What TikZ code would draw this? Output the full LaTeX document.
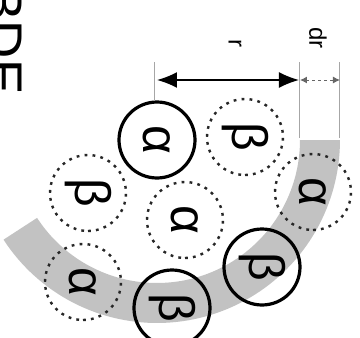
\documentclass[tikz,border=0pt]{standalone}
\usepackage{fontspec}
\setmainfont{Liberation Sans}
\usetikzlibrary{arrows.meta}
\begin{document}
\begin{tikzpicture}[x=0.5pt,y=-0.5pt,
 part/.style={circle,minimum size=38pt,inner sep=0pt,font=\fontsize{25}{25}\selectfont,rotate=-90},
 solidp/.style={part,draw=black,line width=1.6pt},
 dashp/.style={part,draw=black!85,line width=1.2pt,dash pattern=on 1.4pt off 2.6pt},
 ext/.style={draw=black!35,line width=0.5pt},
 lbl/.style={font=\fontsize{12}{12}\selectfont,rotate=-90,inner sep=0pt}]
\useasboundingbox (0,0) rectangle (360,338);
\clip (0,0) rectangle (360,338);
% shell band
\fill[black!24] plot[domain=0:147,samples=80] ({157+183*cos(\x)},{140+183*sin(\x)})
  -- plot[domain=147:0,samples=80] ({157+143*cos(\x)},{140+143*sin(\x)}) -- cycle;
% title
\node[rotate=-90,anchor=base east,inner sep=0pt,font=\fontsize{26.5}{26.5}\selectfont] (title) at (-14,95) {BDE};
% particles
\node[solidp] (a1) at (157,140) {α};
\node[dashp] (b1) at (245,137) {β};
\node[dashp] (b2) at (88,193) {β};
\node[dashp] (a2) at (185,220) {α};
\node[dashp] (a3) at (313,192) {α};
\node[solidp] (b3) at (262,267) {β};
\node[solidp] (b4) at (172,308) {β};
\node[dashp] (a4) at (83,282) {α};
% extension lines
\coordinate (e0t) at (155,62); \coordinate (e0b) at (155,100);
\coordinate (e1t) at (300,62); \coordinate (e1b) at (300,138);
\coordinate (e2t) at (340,62); \coordinate (e2b) at (340,138);
\path[ext] (e0t) -- (e0b);
\path[ext] (e1t) -- (e1b);
\path[ext] (e2t) -- (e2b);
% dimension r
\coordinate (r0) at (157,80); \coordinate (r1) at (299,80);
\draw[line width=0.8pt,{Latex[length=10pt,width=8pt]}-{Latex[length=10pt,width=8pt]}] (r0) -- (r1);
% dimension dr
\coordinate (d0) at (300,80); \coordinate (d1) at (340,80);
\draw[black!60,line width=0.5pt,dash pattern=on 1.5pt off 1.5pt,{Latex[length=3.5pt,width=3.5pt]}-{Latex[length=3.5pt,width=3.5pt]}] (d0) -- (d1);
% labels
\node[lbl] (rl) at (235,43) {r};
\node[lbl] (drl) at (318,38) {dr};
\end{tikzpicture}
\end{document}
